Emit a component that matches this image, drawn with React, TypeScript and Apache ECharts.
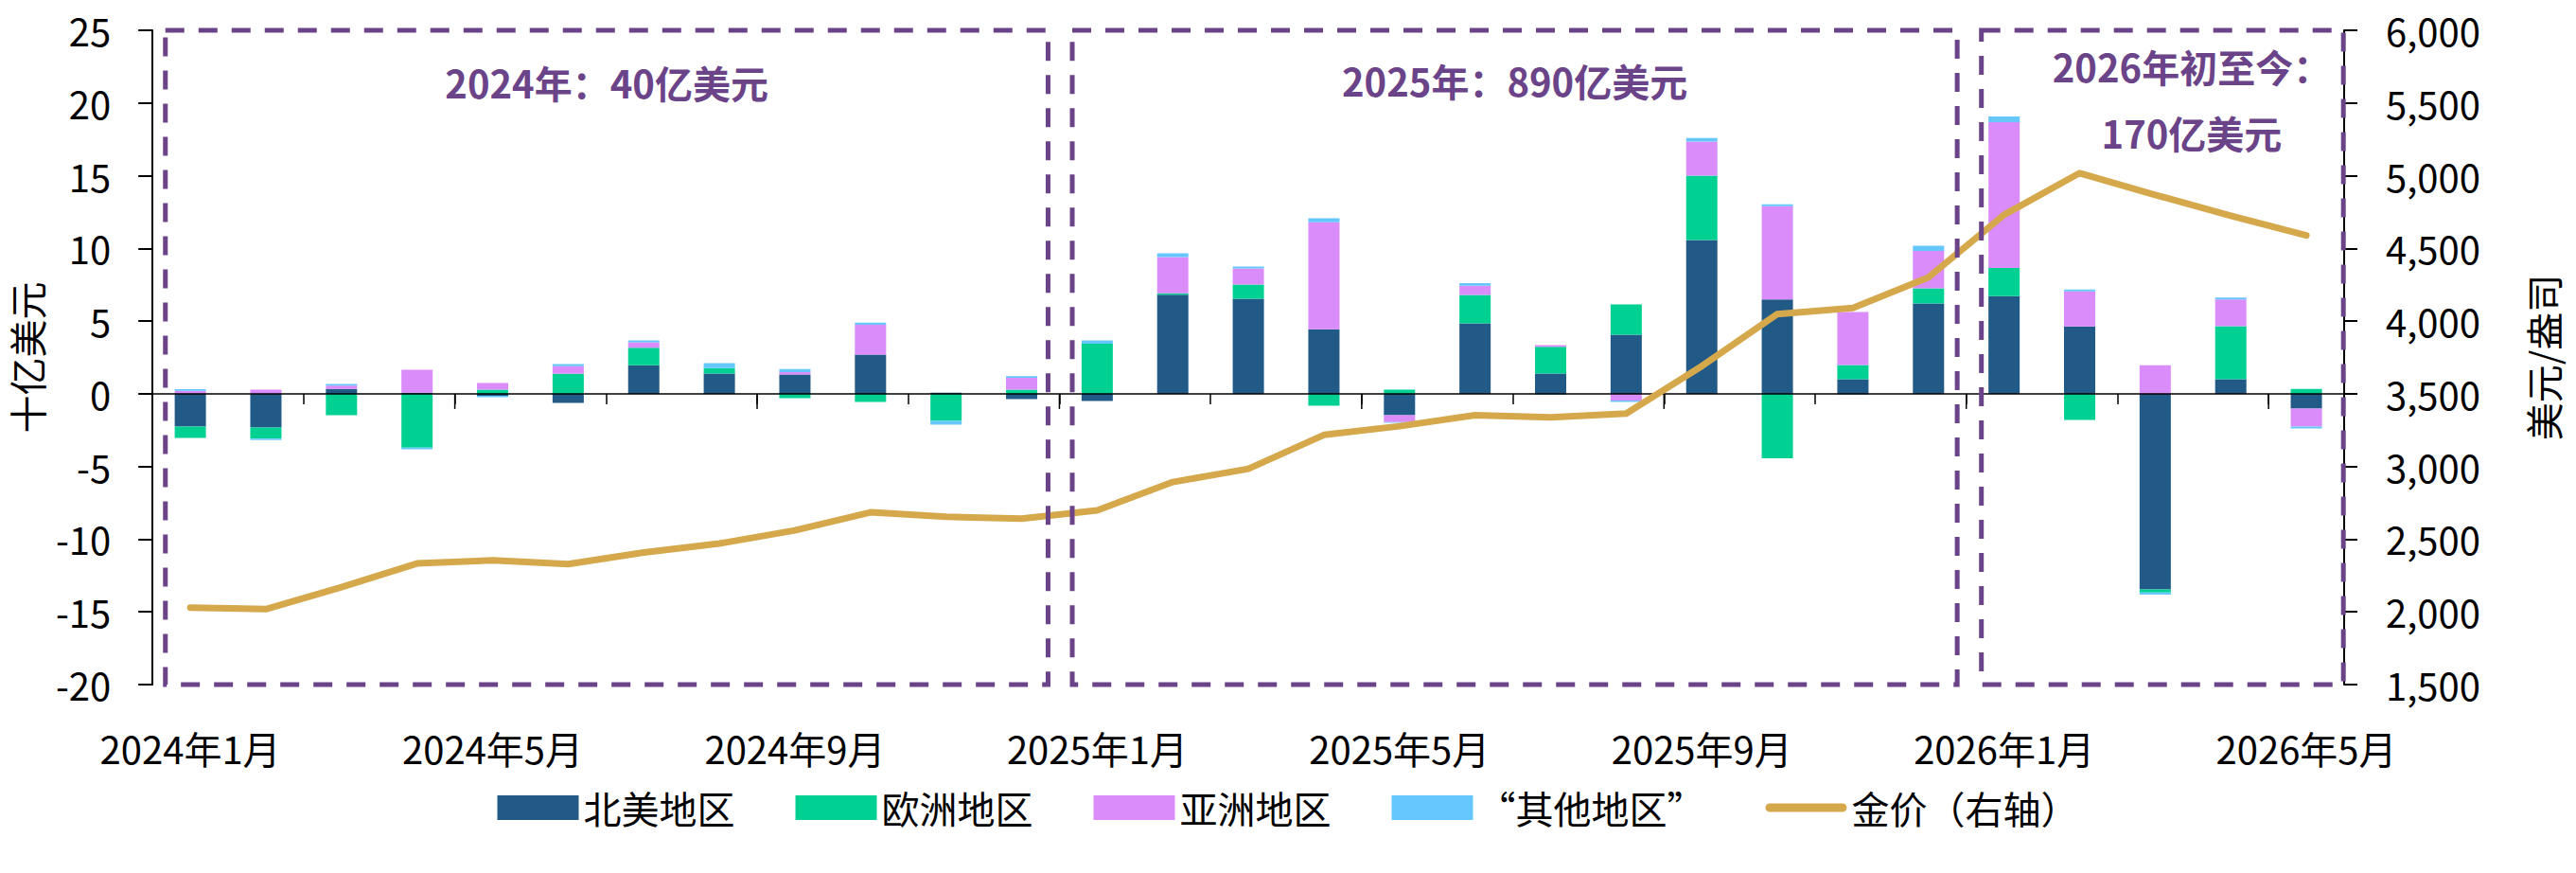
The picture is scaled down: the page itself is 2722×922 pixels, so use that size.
import React, { useEffect, useRef } from "react";
import * as echarts from "echarts";

// Monthly net flows into gold ETFs by region (十亿美元) and the monthly gold price (美元/盎司)
const months = [
  "2024年1月", "2024年2月", "2024年3月", "2024年4月", "2024年5月", "2024年6月",
  "2024年7月", "2024年8月", "2024年9月", "2024年10月", "2024年11月", "2024年12月",
  "2025年1月", "2025年2月", "2025年3月", "2025年4月", "2025年5月", "2025年6月",
  "2025年7月", "2025年8月", "2025年9月", "2025年10月", "2025年11月", "2025年12月",
  "2026年1月", "2026年2月", "2026年3月", "2026年4月", "2026年5月",
];

const northAmerica = [
  -2.26, -2.32, 0.33, 0.07, -0.13, -0.63, 1.97, 1.39, 1.32, 2.69, 0.08, -0.37,
  -0.5, 6.81, 6.53, 4.43, -1.48, 4.84, 1.39, 4.06, 10.57, 6.49, 1.0, 6.21,
  6.71, 4.64, -13.45, 1.0, -1.02,
];

const europe = [
  -0.78, -0.76, -1.48, -3.71, 0.28, 1.37, 1.19, 0.37, -0.3, -0.56, -1.87, 0.28,
  3.45, 0.1, 0.98, -0.82, 0.28, 1.95, 1.84, 2.08, 4.43, -4.43, 0.98, 1.04,
  1.95, -1.8, -0.22, 3.65, 0.33,
];

const asia = [
  0.2, 0.28, 0.24, 1.58, 0.46, 0.52, 0.39, 0, 0.17, 2.06, 0, 0.82,
  0, 2.5, 1.11, 7.36, -0.47, 0.65, 0.11, -0.46, 2.34, 6.42, 3.65, 2.58,
  10.03, 2.41, 1.97, 1.84, -1.24,
];

const otherRegions = [
  0.12, -0.1, 0.1, -0.1, -0.1, 0.15, 0.13, 0.35, 0.22, 0.15, -0.26, 0.11,
  0.22, 0.26, 0.13, 0.28, -0.05, 0.17, -0.08, -0.1, 0.26, 0.13, -0.05, 0.35,
  0.39, 0.13, -0.15, 0.13, -0.13,
];

const goldPrice = [
  2029, 2019, 2170, 2333, 2355, 2329, 2409, 2470, 2561, 2685, 2654, 2641,
  2698, 2893, 2984, 3217, 3277, 3353, 3338, 3364, 3690, 4048, 4091, 4301,
  4731, 5018, 4868, 4725, 4590,
];

// Yearly totals shown in the dashed frames: [first index, last index, caption]
const periods: [number, number, string][] = [
  [0, 11, "2024年：40亿美元"],
  [12, 23, "2025年：890亿美元"],
  [24, 28, "2026年初至今：\n170亿美元"],
];

const seriesNames = ["北美地区", "欧洲地区", "亚洲地区", "“其他地区”", "金价（右轴）"];

const COLORS = {
  na: "#225A87",
  eu: "#00D192",
  asia: "#DB8CFB",
  other: "#66C7FF",
  gold: "#D6A84C",
  frame: "#6B4388",
};

const FONT = '"Noto Sans CJK SC", "Noto Sans", sans-serif';

export default function App() {
  const ref = useRef<HTMLDivElement>(null);

  useEffect(() => {
    if (!ref.current) return;
    const chart = echarts.init(ref.current, null, { renderer: "svg" });

    const barSeries = (name: string, data: number[], color: string) => ({
      name,
      type: "bar",
      stack: "flows",
      xAxisIndex: 0,
      yAxisIndex: 0,
      barWidth: 33,
      data,
      itemStyle: { color },
      z: 2,
    });

    const option: any = {
      animation: false,
      backgroundColor: "#ffffff",
      textStyle: { fontFamily: FONT },
      grid: { left: 153, right: 245, top: 32, bottom: 199, containLabel: false },
      legend: {
        top: 833,
        left: "center",
        padding: 0,
        itemWidth: 86,
        itemHeight: 26,
        itemGap: 64,
        textStyle: { fontSize: 40, color: "#000", fontFamily: FONT },
        data: [
          { name: seriesNames[0], icon: "rect" },
          { name: seriesNames[1], icon: "rect" },
          { name: seriesNames[2], icon: "rect" },
          { name: seriesNames[3], icon: "rect" },
          {
            name: seriesNames[4],
            icon: "path://M5,0 L89,0 A5,5 0 0 1 89,10 L5,10 A5,5 0 0 1 5,0 Z",
            itemStyle: { color: COLORS.gold },
          },
        ],
      },
      xAxis: [
        {
          // axis line and ticks sitting on the zero line
          type: "category",
          data: months,
          position: "top",
          boundaryGap: true,
          z: 5,
          axisLine: {
            show: true,
            onZero: true,
            onZeroAxisIndex: 0,
            lineStyle: { color: "#000", width: 1.5 },
          },
          axisTick: {
            show: true,
            inside: true,
            interval: 1,
            length: 11,
            lineStyle: { color: "#000", width: 1.5 },
          },
          axisLabel: { show: false },
          splitLine: { show: false },
        },
        {
          // month labels along the bottom of the plot
          type: "category",
          data: months,
          position: "bottom",
          boundaryGap: true,
          axisLine: { show: false, onZero: false },
          axisTick: { show: false },
          axisLabel: {
            interval: 3,
            fontSize: 40,
            color: "#000",
            margin: 47,
            fontFamily: FONT,
          },
          splitLine: { show: false },
        },
      ],
      yAxis: [
        {
          type: "value",
          position: "left",
          min: -20,
          max: 25,
          interval: 5,
          name: "十亿美元",
          nameLocation: "middle",
          nameRotate: 90,
          nameGap: 88,
          nameTextStyle: { fontSize: 40, color: "#000", fontFamily: FONT },
          axisLine: { show: true, lineStyle: { color: "#000", width: 2 } },
          axisTick: { show: true, length: 15, lineStyle: { color: "#000", width: 2 } },
          axisLabel: { fontSize: 40, color: "#000", margin: 44, fontFamily: FONT },
          splitLine: { show: false },
        },
        {
          type: "value",
          position: "right",
          min: 1500,
          max: 6000,
          interval: 500,
          name: "美元/盎司",
          nameLocation: "middle",
          nameRotate: 90,
          nameGap: 190,
          nameTextStyle: { fontSize: 40, color: "#000", fontFamily: FONT },
          axisLine: { show: true, lineStyle: { color: "#000", width: 2 } },
          axisTick: { show: true, length: 14, lineStyle: { color: "#000", width: 2 } },
          axisLabel: {
            fontSize: 40,
            color: "#000",
            margin: 44,
            fontFamily: FONT,
            formatter: (v: number) => v.toLocaleString("en-US"),
          },
          splitLine: { show: false },
        },
      ],
      series: [
        barSeries(seriesNames[0], northAmerica, COLORS.na),
        barSeries(seriesNames[1], europe, COLORS.eu),
        barSeries(seriesNames[2], asia, COLORS.asia),
        barSeries(seriesNames[3], otherRegions, COLORS.other),
        {
          name: seriesNames[4],
          type: "line",
          xAxisIndex: 0,
          yAxisIndex: 1,
          data: goldPrice,
          symbol: "none",
          z: 6,
          itemStyle: { color: COLORS.gold },
          lineStyle: { color: COLORS.gold, width: 7, cap: "round", join: "round" },
        },
      ],
    };

    chart.setOption(option);

    // Dashed frames around each year and their captions, placed through the axes
    const xAt = (i: number) => chart.convertToPixel({ xAxisIndex: 0 }, months[i]) as number;
    const yAt = (v: number) => chart.convertToPixel({ yAxisIndex: 0 }, v) as number;
    const band = xAt(1) - xAt(0);
    const top = yAt(25);
    const bottom = yAt(-20);
    const zeroY = yAt(0);
    const pads: [number, number][] = [
      [0.33, 0.35],
      [0.33, 0.38],
      [0.3, 0.49],
    ];
    const captionY = [21.4, 21.55, 20.25];
    const captionShift = [0, 0, 31];

    const graphics: any[] = [];

    // every fourth category boundary carries a longer tick
    for (let k = 4; k < months.length; k += 4) {
      const bx = xAt(k) - band / 2;
      graphics.push({
        type: "line",
        z: 19,
        silent: true,
        shape: { x1: bx, y1: zeroY, x2: bx, y2: zeroY + 16 },
        style: { stroke: "#000", lineWidth: 1.5 },
      });
    }

    periods.forEach(([a, b, caption], k) => {
      const left = xAt(a) - pads[k][0] * band;
      const right = xAt(b) + pads[k][1] * band;
      graphics.push({
        type: "rect",
        z: 20,
        silent: true,
        shape: { x: left, y: top, width: right - left, height: bottom - top },
        style: {
          fill: "none",
          stroke: COLORS.frame,
          lineWidth: 5,
          lineDash: [20, 15],
        },
      });
      graphics.push({
        type: "text",
        z: 21,
        silent: true,
        x: (left + right) / 2 + captionShift[k],
        y: yAt(captionY[k]),
        style: {
          text: caption,
          align: "center",
          verticalAlign: "middle",
          fontSize: 40,
          fontWeight: "bold",
          lineHeight: 70,
          fill: COLORS.frame,
          fontFamily: FONT,
        },
      });
    });

    chart.setOption({ graphic: graphics });

    return () => chart.dispose();
  }, []);

  return (
    <div
      ref={ref}
      style={{ position: "fixed", left: 0, top: 0, width: 2722, height: 922, background: "#fff" }}
    />
  );
}
